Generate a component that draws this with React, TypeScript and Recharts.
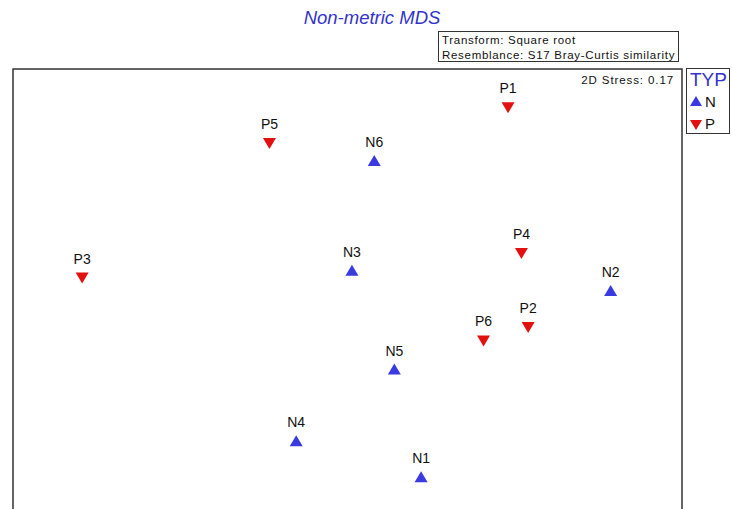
import { ScatterChart, Scatter, XAxis, YAxis, ReferenceArea } from "recharts"

// MDS coordinates
const nLabels = ["N1", "N2", "N3", "N4", "N5", "N6"]
const nX = [0.33, 1.18, 0.02, -0.23, 0.21, 0.12]
const nY = [-0.82, 0.01, 0.1, -0.66, -0.34, 0.59]

const pLabels = ["P1", "P2", "P3", "P4", "P5", "P6"]
const pX = [0.72, 0.81, -1.19, 0.78, -0.35, 0.61]
const pY = [0.83, -0.15, 0.07, 0.18, 0.67, -0.21]

const nData = nLabels.map((name, i) => ({ name, x: nX[i], y: nY[i] }))
const pData = pLabels.map((name, i) => ({ name, x: pX[i], y: pY[i] }))

const BLUE = "#3a3ae0"
const RED = "#e31010"
const font = "'Liberation Sans', Arial, sans-serif"

const Marker = (props: any) => {
  const { cx, cy, payload, up } = props
  const pts = up
    ? `${cx - 6.5},${cy + 5} ${cx + 6.5},${cy + 5} ${cx},${cy - 6}`
    : `${cx - 6.5},${cy - 5} ${cx + 6.5},${cy - 5} ${cx},${cy + 6}`
  return (
    <g>
      <polygon points={pts} fill={up ? BLUE : RED} />
      <text x={cx} y={cy - 14} textAnchor="middle" fontSize={14} fill="#111" fontFamily={font}>
        {payload.name}
      </text>
    </g>
  )
}

export default function App() {
  return (
    <div style={{ position: "absolute", left: 0, top: 0, width: 732, height: 509, overflow: "hidden", background: "#fff", fontFamily: font }}>
      <ScatterChart width={732} height={540} margin={{ top: 69, left: 13, right: 50, bottom: 0 }}>
        <XAxis type="number" dataKey="x" domain={[-1.5, 1.5]} hide />
        <YAxis type="number" dataKey="y" domain={[-1.1, 1.0]} hide />
        <ReferenceArea x1={-1.5} x2={1.5} y1={-1.1} y2={1.0} fill="none" stroke="#333" strokeWidth={1.5} ifOverflow="visible" />
        <Scatter data={nData} isAnimationActive={false} shape={(p: any) => <Marker {...p} up />} />
        <Scatter data={pData} isAnimationActive={false} shape={(p: any) => <Marker {...p} up={false} />} />
      </ScatterChart>

      <div style={{ position: "absolute", left: 272, width: 200, top: 7, textAlign: "center", fontSize: 18.5, fontStyle: "italic", color: "#3333cc" }}>
        Non-metric MDS
      </div>

      <div style={{ position: "absolute", left: 438, top: 31, width: 241, height: 31, border: "1.5px solid #333", fontSize: 11.5, lineHeight: "15px", paddingLeft: 3, paddingTop: 1, boxSizing: "border-box", letterSpacing: 0.7, color: "#111", whiteSpace: "nowrap" }}>
        Transform: Square root
        <br />
        Resemblance: S17 Bray-Curtis similarity
      </div>

      <div style={{ position: "absolute", right: 58, top: 74, fontSize: 11.5, letterSpacing: 0.9, color: "#111" }}>2D Stress: 0.17</div>

      <div style={{ position: "absolute", left: 686, top: 68, width: 42, height: 64, border: "1.5px solid #333", boxSizing: "content-box" }}>
        <div style={{ position: "absolute", left: 3, top: 0, fontSize: 19, color: "#3333cc", lineHeight: "22px" }}>TYP</div>
        <svg style={{ position: "absolute", left: 2, top: 26 }} width={14} height={40}>
          <polygon points="1,11 13,11 7,1" fill={BLUE} />
          <polygon points="1,25 13,25 7,35" fill={RED} />
        </svg>
        <div style={{ position: "absolute", left: 18, top: 24, fontSize: 15, lineHeight: "18px", color: "#111" }}>N</div>
        <div style={{ position: "absolute", left: 18, top: 46, fontSize: 15, lineHeight: "18px", color: "#111" }}>P</div>
      </div>
    </div>
  )
}
